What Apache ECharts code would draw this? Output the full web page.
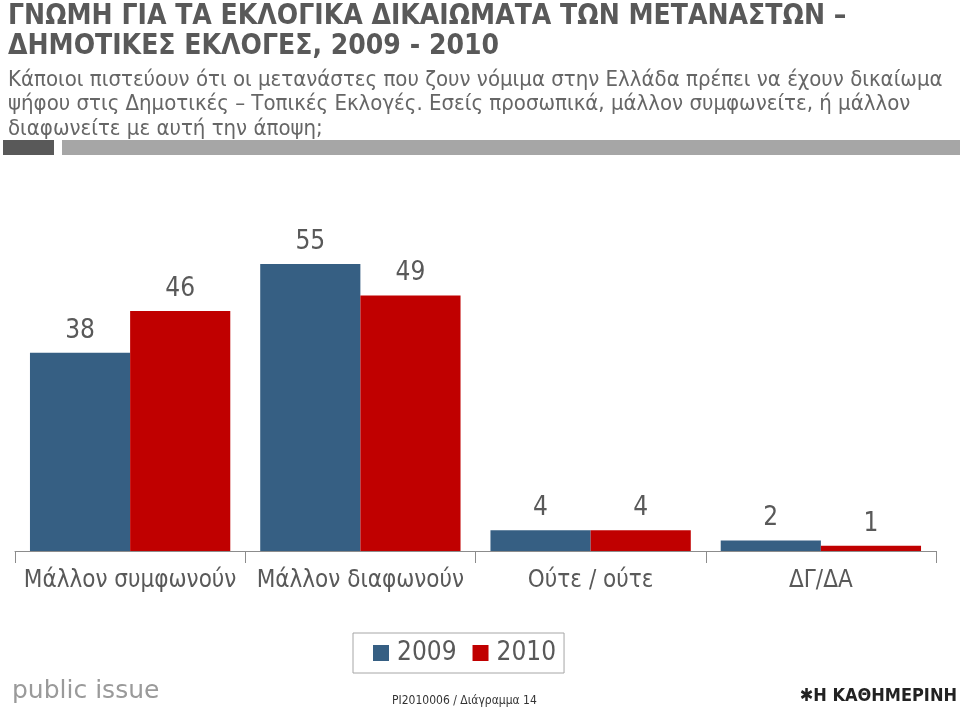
<!DOCTYPE html>
<html><head><meta charset="utf-8">
<script src="https://cdn.jsdelivr.net/npm/echarts@6/dist/echarts.min.js"></script>
<style>html,body{margin:0;padding:0;background:#fff}#c{width:960px;height:710px}</style>
</head><body><div id="c"></div>
<script>
const categories = ['Μάλλον συμφωνούν', 'Μάλλον διαφωνούν', 'Ούτε / ούτε', 'ΔΓ/ΔΑ'];
const values2009 = [38, 55, 4, 2];
const values2010 = [46, 49, 4, 1];
const seriesNames = ['2009', '2010'];

const FONT = '"DejaVu Sans Condensed", "Liberation Sans Narrow", "Open Sans", sans-serif';
const GREY = '#595959';
const chart = echarts.init(document.getElementById('c'), null, {renderer: 'canvas'});
const labelCfg = {show: true, position: 'top', distance: 9, color: GREY, fontSize: 26, fontFamily: FONT};
chart.setOption({
  animation: false,
  textStyle: {fontFamily: FONT},
  grid: {left: 15, right: 24, top: 238, height: 313},
  xAxis: {
    type: 'category', data: categories,
    axisLine: {lineStyle: {color: '#8c8c8c', width: 1}},
    axisTick: {show: true, length: 12, lineStyle: {color: '#8c8c8c'}},
    axisLabel: {interval: 0, color: GREY, fontSize: 24, margin: 18, fontFamily: FONT}
  },
  yAxis: {type: 'value', min: 0, max: 60, show: false, splitLine: {show: false}},
  legend: {
    data: seriesNames, left: 353, top: 633,
    padding: [7, 8, 7, 20], itemGap: 16,
    borderColor: '#a6a6a6', borderWidth: 1,
    itemWidth: 16, itemHeight: 16, icon: 'rect',
    textStyle: {color: GREY, fontSize: 26, fontFamily: FONT, padding: [0, 0, 0, 3]}
  },
  series: [
    {name: seriesNames[0], type: 'bar', data: values2009, barGap: '0%', barCategoryGap: '13%',
     itemStyle: {color: '#365F83'}, label: labelCfg},
    {name: seriesNames[1], type: 'bar', data: values2010, barGap: '0%', barCategoryGap: '13%',
     itemStyle: {color: '#C00000'}, label: labelCfg}
  ],
  graphic: [
    {type: 'text', left: 8, top: 2, style: {text: 'ΓΝΩΜΗ ΓΙΑ ΤΑ ΕΚΛΟΓΙΚΑ ΔΙΚΑΙΩΜΑΤΑ ΤΩΝ ΜΕΤΑΝΑΣΤΩΝ –\nΔΗΜΟΤΙΚΕΣ ΕΚΛΟΓΕΣ, 2009 - 2010',
      font: 'bold 28px ' + FONT, fill: GREY, lineHeight: 30}},
    {type: 'text', left: 8, top: 68, style: {text: 'Κάποιοι πιστεύουν ότι οι μετανάστες που ζουν νόμιμα στην Ελλάδα πρέπει να έχουν δικαίωμα\nψήφου στις Δημοτικές – Τοπικές Εκλογές. Εσείς προσωπικά, μάλλον συμφωνείτε, ή μάλλον\nδιαφωνείτε με αυτή την άποψη;',
      font: '22px ' + FONT, fill: '#666666', lineHeight: 24.5}},
    {type: 'rect', shape: {x: 3, y: 140, width: 51, height: 15}, style: {fill: '#595959'}},
    {type: 'rect', shape: {x: 62, y: 140, width: 898, height: 15}, style: {fill: '#a6a6a6'}},
    {type: 'text', left: 12, top: 679, style: {text: 'public issue', font: '25px "DejaVu Sans", sans-serif', fill: '#9a9a9a'}},
    {type: 'text', left: 392, top: 695, style: {text: 'PI2010006 / Διάγραμμα 14', font: '12px ' + FONT, fill: '#333333'}},
    {type: 'text', right: 3, top: 687, style: {text: '✱Η ΚΑΘΗΜΕΡΙΝΗ', font: 'bold 18px ' + FONT, fill: '#222222'}}
  ]
});
</script></body></html>
